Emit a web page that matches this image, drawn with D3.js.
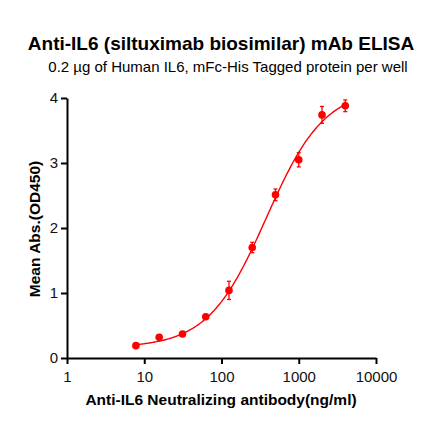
<!DOCTYPE html>
<html>
<head>
  <meta charset="utf-8">
  <style>
    body { margin: 0; background: #fff; font-family: Arial, "Liberation Sans", sans-serif; }
    .axis path, .axis line { stroke: #000; stroke-width: 2px; }
    .axis text { font-size: 15px; fill: #111; font-family: Arial, "Liberation Sans", sans-serif; }
  </style>
</head>
<body>
<svg id="chart" width="440" height="441"></svg>
<script src="https://cdnjs.cloudflare.com/ajax/libs/d3/7.8.5/d3.min.js"></script>
<script>
  // concentrations (ng/ml) and mean OD450 with error
  const concentrations = [7.8, 15.6, 31.25, 62.5, 125, 250, 500, 1000, 2000, 4000];
  const meanAbs = [0.19, 0.32, 0.37, 0.635, 1.04, 1.70, 2.51, 3.05, 3.74, 3.88];
  const errAbs = [0.03, 0.04, 0.03, 0.03, 0.14, 0.08, 0.09, 0.11, 0.13, 0.09];
  const xTicks = [1, 10, 100, 1000, 10000];
  const yTicks = [0, 1, 2, 3, 4];
  // 4PL fit parameters: bottom, top, EC50, hill
  const fit = { bottom: 0.16, top: 4.15, ec50: 380, hill: 1.15 };

  const svg = d3.select("#chart");
  const x = d3.scaleLog().domain([1, 10000]).range([67, 376]);
  const y = d3.scaleLinear().domain([0, 4]).range([358, 98]);

  svg.append("g")
    .attr("class", "axis")
    .attr("transform", "translate(0,358)")
    .call(d3.axisBottom(x).tickValues(xTicks).tickFormat(d3.format("d")).tickSize(6).tickSizeOuter(0))
    .call(g => g.selectAll("text").attr("y", 10).attr("dy", "0.95em"));

  svg.append("g")
    .attr("class", "axis")
    .attr("transform", "translate(67,0)")
    .call(d3.axisLeft(y).tickValues(yTicks).tickFormat(d3.format("d")).tickSize(6).tickSizeOuter(0))
    .call(g => g.selectAll("text").attr("x", -9));

  const logistic = c => fit.bottom + (fit.top - fit.bottom) / (1 + Math.pow(fit.ec50 / c, fit.hill));
  const curveX = d3.range(0, 201).map(i => Math.pow(10, Math.log10(7.8) + i / 200 * (Math.log10(4000) - Math.log10(7.8))));

  svg.append("path")
    .datum(curveX)
    .attr("fill", "none")
    .attr("stroke", "#f00")
    .attr("stroke-width", 1.4)
    .attr("d", d3.line().x(d => x(d)).y(d => y(logistic(d))));

  const pts = concentrations.map((c, i) => ({ c, v: meanAbs[i], e: errAbs[i] }));

  const bars = svg.append("g").attr("stroke", "#f00").attr("stroke-width", 1.3);
  bars.selectAll(".err").data(pts).join("line")
    .attr("x1", d => x(d.c)).attr("x2", d => x(d.c))
    .attr("y1", d => y(d.v - d.e)).attr("y2", d => y(d.v + d.e));
  bars.selectAll(".capt").data(pts).join("line")
    .attr("x1", d => x(d.c) - 2).attr("x2", d => x(d.c) + 2)
    .attr("y1", d => y(d.v + d.e)).attr("y2", d => y(d.v + d.e));
  bars.selectAll(".capb").data(pts).join("line")
    .attr("x1", d => x(d.c) - 2).attr("x2", d => x(d.c) + 2)
    .attr("y1", d => y(d.v - d.e)).attr("y2", d => y(d.v - d.e));

  svg.append("g").selectAll("circle").data(pts).join("circle")
    .attr("cx", d => x(d.c))
    .attr("cy", d => y(d.v))
    .attr("r", 3.8)
    .attr("fill", "#f00");

  svg.append("text")
    .attr("x", 221).attr("y", 50)
    .attr("text-anchor", "middle")
    .style("font-size", "19px").style("font-weight", "bold")
    .text("Anti-IL6 (siltuximab biosimilar) mAb ELISA");

  svg.append("text")
    .attr("x", 228).attr("y", 72)
    .attr("text-anchor", "middle")
    .style("font-size", "15px")
    .text("0.2 µg of Human IL6, mFc-His Tagged protein per well");

  svg.append("text")
    .attr("x", 221).attr("y", 405)
    .attr("text-anchor", "middle")
    .style("font-size", "15.5px").style("font-weight", "bold")
    .text("Anti-IL6 Neutralizing antibody(ng/ml)");

  svg.append("text")
    .attr("transform", "translate(40,229) rotate(-90)")
    .attr("text-anchor", "middle")
    .style("font-size", "15.5px").style("font-weight", "bold")
    .text("Mean Abs.(OD450)");
</script>
</body>
</html>
